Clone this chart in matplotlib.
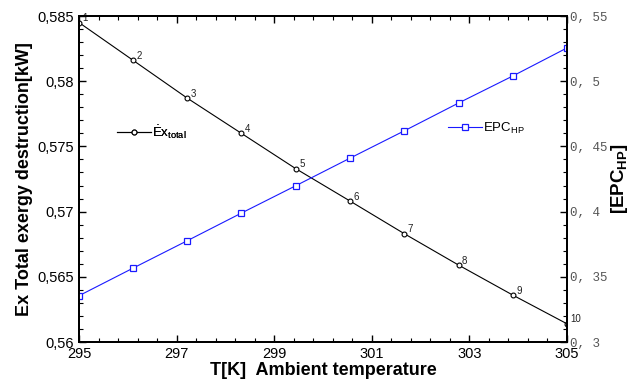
import matplotlib
matplotlib.use("Agg")
import matplotlib.pyplot as plt
from matplotlib.ticker import MultipleLocator, FuncFormatter

# Data
temperature = [295.0, 296.11, 297.22, 298.33, 299.44, 300.56, 301.67, 302.78, 303.89, 305.0]
ex_total = [0.5845, 0.5816, 0.5787, 0.5760, 0.5733, 0.5708, 0.5683, 0.5659, 0.5636, 0.5614]
epc_hp = [0.3355, 0.3567, 0.3777, 0.3989, 0.4198, 0.4411, 0.4620, 0.4833, 0.5040, 0.5255]
point_labels = ["1", "2", "3", "4", "5", "6", "7", "8", "9", "10"]

plt.rcParams["font.family"] = ["Liberation Sans", "DejaVu Sans"]
plt.rcParams["mathtext.fontset"] = "custom"
plt.rcParams["mathtext.rm"] = "Liberation Sans"
plt.rcParams["mathtext.bf"] = "Liberation Sans:bold"


def comma_fmt(v, pos):
    s = f"{v:.3f}".rstrip("0").rstrip(".")
    return s.replace(".", ",")


def comma_space_fmt(v, pos):
    s = f"{v:.2f}".rstrip("0").rstrip(".")
    return s.replace(".", ", ")


def main():
    fig = plt.figure(figsize=(6.32, 3.89), dpi=100)
    ax = fig.add_axes([0.125, 0.1208, 0.772, 0.838])
    ax2 = ax.twinx()

    # left axis: exergy destruction
    l1, = ax.plot(temperature, ex_total, color="black", lw=0.8, marker="o",
                  ms=3.5, mfc="white", mec="black", mew=0.8,
                  label=r"$\dot{\mathrm{E}}\mathrm{x}_{\mathrm{total}}$")
    for x, y, t in zip(temperature, ex_total, point_labels):
        ax.annotate(t, (x, y), xytext=(2.5, 1), textcoords="offset points",
                    fontsize=7, color="#222222", annotation_clip=False)

    # right axis: EPC
    l2, = ax2.plot(temperature, epc_hp, color="#1a1aff", lw=0.8, marker="s",
                   ms=5, mfc="white", mec="#1a1aff", mew=0.9,
                   label=r"$\mathrm{EPC}_{\mathrm{HP}}$")

    ax.set_xlim(295, 305)
    ax.set_ylim(0.56, 0.585)
    ax2.set_ylim(0.3, 0.55)

    ax.xaxis.set_major_locator(MultipleLocator(2, offset=1))
    ax.xaxis.set_minor_locator(MultipleLocator(0.4, offset=0.2))
    ax.yaxis.set_major_locator(MultipleLocator(0.005))
    ax.yaxis.set_minor_locator(MultipleLocator(0.001))
    ax2.yaxis.set_major_locator(MultipleLocator(0.05))
    ax2.yaxis.set_minor_locator(MultipleLocator(0.01))

    ax.yaxis.set_major_formatter(FuncFormatter(comma_fmt))
    ax2.yaxis.set_major_formatter(FuncFormatter(comma_space_fmt))

    ax.tick_params(which="both", direction="in", top=True, labelsize=10.5)
    ax.tick_params(which="major", length=5, width=1)
    ax.tick_params(which="minor", length=3, width=0.8)
    ax2.tick_params(which="both", direction="in", labelsize=9,
                    labelcolor="#555555", pad=2)
    ax2.tick_params(which="major", length=5, width=1)
    ax2.tick_params(which="minor", length=3, width=0.8)
    for lab in ax2.get_yticklabels():
        lab.set_family("Liberation Mono")

    for sp in ax.spines.values():
        sp.set_linewidth(1.4)
    for sp in ax2.spines.values():
        sp.set_linewidth(1.4)

    ax.set_xlabel("T[K]  Ambient temperature", fontsize=13, fontweight="bold",
                  labelpad=1)
    ax.set_ylabel("Ex Total exergy destruction[kW]", fontsize=13,
                  fontweight="bold", labelpad=3)
    ax2.set_ylabel(r"[EPC$_{\mathbf{HP}}$]", fontsize=13.5, fontweight="bold",
                   labelpad=1)

    leg1 = ax.legend(handles=[l1], loc="center left",
                     bbox_to_anchor=(0.077, 0.644), frameon=False,
                     fontsize=9.5, handlelength=2.6, handletextpad=0.05,
                     borderpad=0, borderaxespad=0)
    ax.add_artist(leg1)
    ax2.legend(handles=[l2], loc="center left", bbox_to_anchor=(0.756, 0.656),
               frameon=False, fontsize=9.5, handlelength=2.6,
               handletextpad=0.05, borderpad=0, borderaxespad=0)

    fig.savefig("out.png", dpi=100)


if __name__ == "__main__":
    main()
